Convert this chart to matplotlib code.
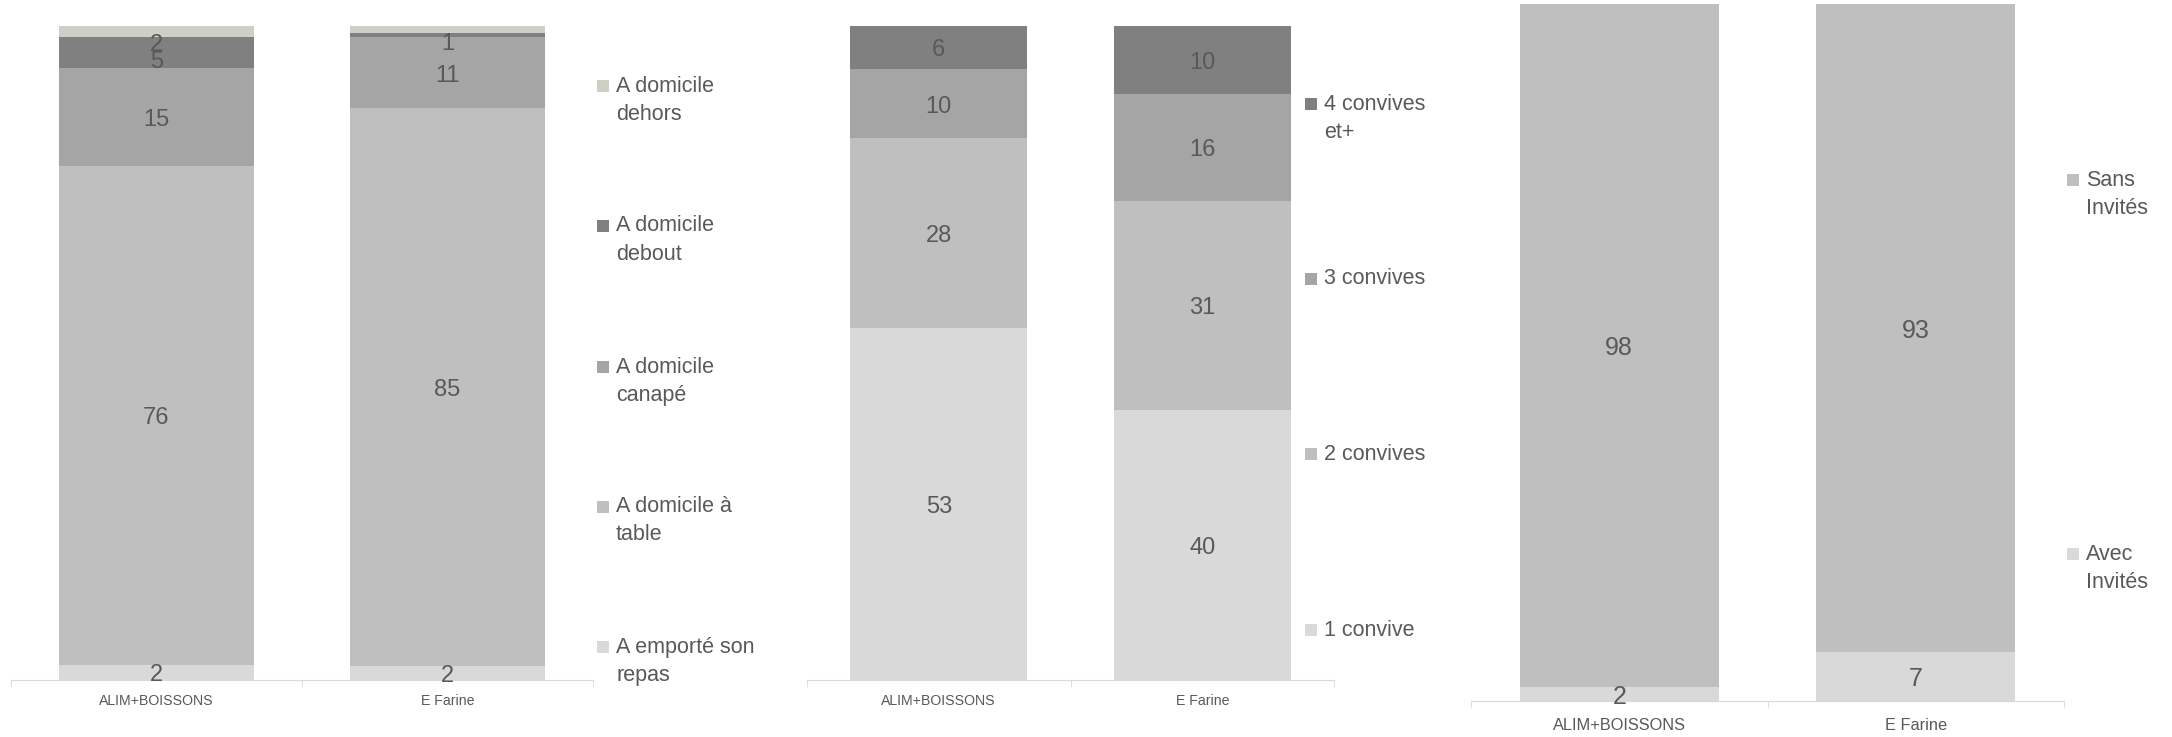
import numpy as np
import matplotlib.pyplot as plt
from matplotlib.patches import Rectangle

plt.rcParams['font.family'] = ['Liberation Sans', 'DejaVu Sans']

categories = ['ALIM+BOISSONS', 'E Farine']

# panel 1 : lieu du repas (bottom -> top)
lieu_names = ['A emporté son\nrepas', 'A domicile à\ntable', 'A domicile\ncanapé',
              'A domicile\ndebout', 'A domicile\ndehors']
lieu_alim = [2.3, 76.3, 15.0, 4.7, 1.7]
lieu_farine = [2.1, 85.3, 10.9, 0.6, 1.1]
lieu_lab_alim = ['2', '76', '15', '5', '2']
lieu_lab_farine = ['2', '85', '11', '1', '']
lieu_colors = ['#d9d9d9', '#bfbfbf', '#a5a5a5', '#808080', '#cfcfc6']

# panel 2 : nombre de convives
conv_names = ['1 convive', '2 convives', '3 convives', '4 convives\net+']
conv_alim = [53.8, 29.0, 10.6, 6.6]
conv_farine = [41.3, 32.0, 16.3, 10.4]
conv_lab_alim = ['53', '28', '10', '6']
conv_lab_farine = ['40', '31', '16', '10']
conv_colors = ['#d9d9d9', '#bfbfbf', '#a5a5a5', '#808080']

# panel 3 : invites
inv_names = ['Avec\nInvités', 'Sans\nInvités']
inv_alim = [2, 98]
inv_farine = [7, 93]
inv_colors = ['#d9d9d9', '#bfbfbf']

W, H = 2172, 737
fig = plt.figure(figsize=(W / 100, H / 100), dpi=100)
txt = '#595959'


def make_ax(x0, x1, ytop, ybot):
    return fig.add_axes([x0 / W, 1 - ybot / H, (x1 - x0) / W, (ybot - ytop) / H])


def stacked(ax, alim, farine, labels, colors, fs, shifts=None, tick_fs=10.2, pad=10):
    a = np.array(alim, float)
    f = np.array(farine, float)
    data = np.vstack([a / a.sum() * 100, f / f.sum() * 100])
    x = np.arange(2)
    bottom = np.zeros(2)
    for i in range(data.shape[1]):
        ax.bar(x, data[:, i], 0.67, bottom=bottom, color=colors[i], linewidth=0)
        for j in range(2):
            lab = labels[j][i]
            if lab:
                yc = bottom[j] + data[j, i] / 2
                if shifts is not None:
                    yc += shifts[i]
                ax.annotate(lab, (x[j], yc), xytext=(0, -2), textcoords='offset points',
                            ha='center', va='center', fontsize=fs, color=txt)
        bottom += data[:, i]
    ax.set_xlim(-0.5, 1.5)
    ax.set_ylim(0, 100)
    for s in ['top', 'left', 'right']:
        ax.spines[s].set_visible(False)
    ax.spines['bottom'].set_color('#d9d9d9')
    ax.set_yticks([])
    ax.set_xticks(x)
    ax.set_xticklabels(categories, fontsize=tick_fs, color=txt)
    ax.tick_params(axis='x', length=0, pad=pad)
    ax.set_xticks([-0.5, 0.5, 1.5], minor=True)
    ax.tick_params(axis='x', which='minor', length=5, color='#d9d9d9')


def legend(names, colors, xs, ys, gap=28, fs=15.5, sq=12):
    for name, c, y in zip(names, colors, ys):
        y = y + 3
        fig.patches.append(Rectangle(((xs - sq / 2) / W, 1 - (y + sq / 2) / H), sq / W, sq / H,
                                     transform=fig.transFigure, color=c, linewidth=0))
        for k, line in enumerate(name.split('\n')):
            fig.text((xs + 13) / W, 1 - (y + k * gap) / H, line, fontsize=fs, color=txt,
                     ha='left', va='center')


ax1 = make_ax(11, 593, 26, 680)
stacked(ax1, lieu_alim, lieu_farine, [lieu_lab_alim, lieu_lab_farine], lieu_colors, 17,
        shifts=[0, 0, 0, -1.0, -1.6])
legend(lieu_names, lieu_colors, 603, [644, 504, 364, 223, 83])

ax2 = make_ax(807, 1334, 26, 680)
stacked(ax2, conv_alim, conv_farine, [conv_lab_alim, conv_lab_farine], conv_colors, 17)
legend(conv_names, conv_colors, 1311, [627, 451, 276, 101])

ax3 = make_ax(1471, 2064, 4, 701)
lab3 = [[str(v) for v in inv_alim], [str(v) for v in inv_farine]]
stacked(ax3, inv_alim, inv_farine, lab3, inv_colors, 18, tick_fs=11.8, pad=12)
legend(inv_names, inv_colors, 2073, [551, 177])

fig.savefig('out.png', dpi=100)
